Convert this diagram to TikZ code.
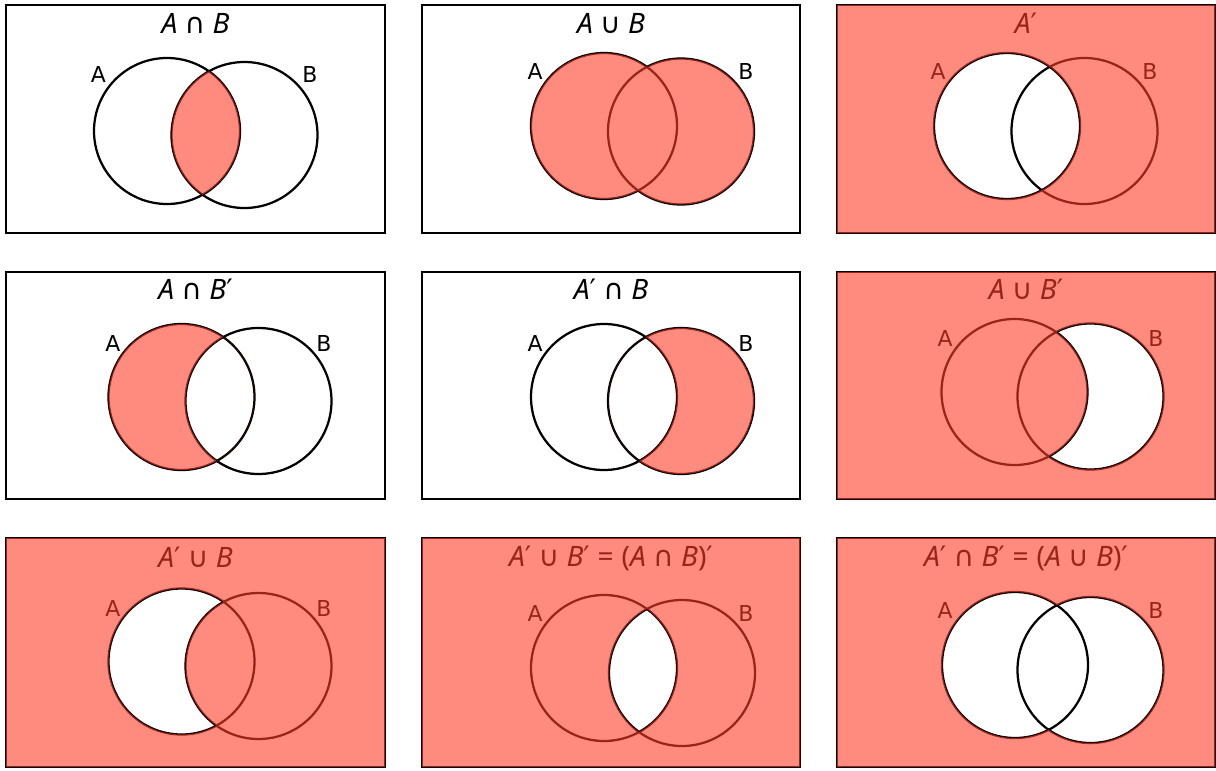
\documentclass[tikz,border=0pt]{standalone}
\usepackage{fontspec}
\setmainfont{DejaVu Sans}
\newfontfamily\titlefont{Noto Sans}
\newfontfamily\symfont{DejaVu Sans}
\usetikzlibrary{calc}
\definecolor{shade}{RGB}{255,60,40}
\newcommand\It[1]{{\itshape #1}}
\newcommand\Scap{{\symfont ∩}}
\newcommand\Scup{{\symfont ∪}}
\newcommand\Spr{{\symfont ′}}
\newcommand\Eq{\hspace{0.28em}=\hspace{0.28em}}
\begin{document}
\begin{tikzpicture}[x=0.025cm,y=-0.025cm,
  frame/.style={draw=black, line width=1.5pt},
  circ/.style={draw=black, line width=1.6pt},
  lab/.style={font=\fontsize{15.6}{18}\selectfont, inner sep=0pt},
  ttl/.style={font=\titlefont\fontsize{20}{24}\selectfont, inner sep=0pt, anchor=base},
  sh/.style={fill=shade, fill opacity=0.6}]
\useasboundingbox (0,0) rectangle (1216,770);
\def\R{73}
% ---------- coordinates ----------
\coordinate (A1) at (167,131);    \coordinate (B1) at (244.5,135);
\coordinate (A2) at (604,126);    \coordinate (B2) at (681,131.5);
\coordinate (A3) at (1007,126);   \coordinate (B3) at (1084.5,131);
\coordinate (A4) at (181.5,397);  \coordinate (B4) at (258.5,401);
\coordinate (A5) at (604,397);    \coordinate (B5) at (681,401);
\coordinate (A6) at (1014.5,392); \coordinate (B6) at (1090.5,396.5);
\coordinate (A7) at (181.5,661.5);\coordinate (B7) at (258.5,666);
\coordinate (A8) at (604,668);    \coordinate (B8) at (682,673);
\coordinate (A9) at (1015,665);   \coordinate (B9) at (1090.5,670);
% ---------- frames ----------
\draw[frame] (6,5) rectangle (385,233);
\draw[frame] (422,5) rectangle (800,233);
\draw[frame] (837,5) rectangle (1215,233);
\draw[frame] (6,272) rectangle (385,499);
\draw[frame] (422,272) rectangle (800,499);
\draw[frame] (837,272) rectangle (1215,499);
\draw[frame] (6,538) rectangle (385,767);
\draw[frame] (422,538) rectangle (800,767);
\draw[frame] (837,538) rectangle (1215,767);
% ---------- circles ----------
\foreach \i in {1,...,9}{
  \draw[circ] (A\i) circle[radius=\R];
  \draw[circ] (B\i) circle[radius=\R];
}
% ---------- labels ----------
\node[lab] (la1) at (98.5,75) {A};  \node[lab] (lb1) at (310,75) {B};
\node[lab] (la2) at (535,72) {A};   \node[lab] (lb2) at (746,72) {B};
\node[lab] (la3) at (938,72) {A};   \node[lab] (lb3) at (1150,72) {B};
\node[lab] (la4) at (113,343) {A};  \node[lab] (lb4) at (324,343) {B};
\node[lab] (la5) at (535,343) {A};  \node[lab] (lb5) at (746,343) {B};
\node[lab] (la6) at (945,338) {A};  \node[lab] (lb6) at (1156,338) {B};
\node[lab] (la7) at (113,608) {A};  \node[lab] (lb7) at (324,608) {B};
\node[lab] (la8) at (535,613) {A};  \node[lab] (lb8) at (746,613) {B};
\node[lab] (la9) at (945,610) {A};  \node[lab] (lb9) at (1156,610) {B};
% ---------- titles ----------
\node[ttl] (t1) at (195.5,33) {\It{A} \Scap{} \It{B}};
\node[ttl] (t2) at (611,33) {\It{A} \Scup{} \It{B}};
\node[ttl] (t3) at (1026,33) {\It{A}\Spr};
\node[ttl] (t4) at (195.5,299.5) {\It{A} \Scap{} \It{B}\Spr};
\node[ttl] (t5) at (611,299.5) {\It{A}\Spr{} \Scap{} \It{B}};
\node[ttl] (t6) at (1026,299.5) {\It{A} \Scup{} \It{B}\Spr};
\node[ttl] (t7) at (195.5,567) {\It{A}\Spr{} \Scup{} \It{B}};
\node[ttl] (t8) at (611,566) {\It{A}\Spr{} \Scup{} \It{B}\Spr\Eq(\It{A} \Scap{} \It{B})\Spr};
\node[ttl] (t9) at (1026,566) {\It{A}\Spr{} \Scap{} \It{B}\Spr\Eq(\It{A} \Scup{} \It{B})\Spr};
% ---------- shading ----------
% 1: A and B
\begin{scope}\clip (A1) circle[radius=\R]; \fill[sh] (B1) circle[radius=\R];\end{scope}
% 2: A or B
\fill[sh] (A2) circle[radius=\R] (B2) circle[radius=\R];
% 3: A'
\fill[sh, even odd rule] (837,5) rectangle (1215,233) (A3) circle[radius=\R];
% 4: A and B'
\begin{scope}\clip (A4) circle[radius=\R];
  \fill[sh, even odd rule] (A4) circle[radius=\R] (B4) circle[radius=\R];\end{scope}
% 5: A' and B
\begin{scope}\clip (B5) circle[radius=\R];
  \fill[sh, even odd rule] (A5) circle[radius=\R] (B5) circle[radius=\R];\end{scope}
% 6: A or B'
\fill[sh, even odd rule] (837,272) rectangle (1215,499) (B6) circle[radius=\R];
\begin{scope}\clip (A6) circle[radius=\R]; \fill[sh] (B6) circle[radius=\R];\end{scope}
% 7: A' or B
\fill[sh, even odd rule] (6,538) rectangle (385,767) (A7) circle[radius=\R];
\begin{scope}\clip (A7) circle[radius=\R]; \fill[sh] (B7) circle[radius=\R];\end{scope}
% 8: A' or B'
\fill[sh, even odd rule] (422,538) rectangle (800,767) (A8) circle[radius=\R];
\begin{scope}\clip (A8) circle[radius=\R];
  \fill[sh, even odd rule] (A8) circle[radius=\R] (B8) circle[radius=\R];\end{scope}
% 9: A' and B'
\begin{scope}
  \clip (837,538) -- (1215,538) -- (1215,767) -- (837,767) -- cycle
        ($(A9)+(\R,0)$) arc[start angle=0, end angle=-360, radius=\R];
  \fill[sh, even odd rule] (837,538) rectangle (1215,767) (B9) circle[radius=\R];
\end{scope}
\end{tikzpicture}
\end{document}
